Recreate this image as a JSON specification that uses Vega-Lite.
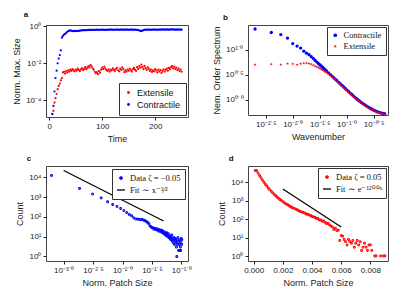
{
  "$schema": "https://vega.github.io/schema/vega-lite/v6.json",
  "padding": {"left": 12, "top": 10, "right": 2, "bottom": 2},
  "background": "white",
  "columns": 2,
  "spacing": {"row": 10, "column": 19},
  "config": {
    "font": "Liberation Sans",
    "view": {"stroke": "#444", "strokeWidth": 1},
    "axis": {"grid": false, "domain": false, "tickColor": "#222", "tickSize": 3, "labelFontSize": 8, "titleFontSize": 9, "titleFontWeight": "normal", "labelColor": "#222", "titleColor": "#222", "labelFont": "Liberation Sans", "titleFont": "Liberation Sans", "labelPadding": 2, "titlePadding": 4, "labelOverlap": false},
    "legend": {"labelFontSize": 8.5, "labelFont": "Liberation Serif", "labelColor": "#111", "strokeColor": "#333", "fillColor": "white", "padding": 4, "rowPadding": 2, "symbolStrokeWidth": 1.3, "labelLimit": 200, "offset": 3, "titlePadding": 0},
    "title": {"fontSize": 8, "fontWeight": "bold", "anchor": "start", "frame": "bounds", "offset": 3, "color": "#111", "font": "Liberation Sans"}
  },
  "resolve": {
    "scale": {"x": "independent", "y": "independent", "color": "independent", "shape": "independent", "fill": "independent", "stroke": "independent"},
    "legend": {"color": "independent", "shape": "independent", "fill": "independent", "stroke": "independent"}
  },
  "concat": [
    {
      "width": 142, "height": 92,
      "title": {"text": "a", "dx": 11},
      "data": {"values": [
        {"t":6,"v":0.0000186,"s":"Extensile"},{"t":8,"v":0.000027,"s":"Extensile"},{"t":10,"v":0.000076,"s":"Extensile"},{"t":12,"v":0.00013,"s":"Extensile"},{"t":14,"v":0.00022,"s":"Extensile"},{"t":16,"v":0.0004,"s":"Extensile"},{"t":18,"v":0.0006,"s":"Extensile"},{"t":20,"v":0.0008,"s":"Extensile"},{"t":22,"v":0.0012,"s":"Extensile"},{"t":24,"v":0.0016,"s":"Extensile"},
        {"t":26,"v":0.0032,"s":"Extensile"},{"t":28,"v":0.0035,"s":"Extensile"},{"t":30,"v":0.0028,"s":"Extensile"},{"t":32,"v":0.0038,"s":"Extensile"},{"t":34,"v":0.0031,"s":"Extensile"},{"t":36,"v":0.0042,"s":"Extensile"},{"t":38,"v":0.0036,"s":"Extensile"},{"t":40,"v":0.0045,"s":"Extensile"},{"t":42,"v":0.0039,"s":"Extensile"},{"t":44,"v":0.0048,"s":"Extensile"},
        {"t":46,"v":0.0041,"s":"Extensile"},{"t":48,"v":0.0037,"s":"Extensile"},{"t":50,"v":0.0046,"s":"Extensile"},{"t":52,"v":0.004,"s":"Extensile"},{"t":54,"v":0.0052,"s":"Extensile"},{"t":56,"v":0.0044,"s":"Extensile"},{"t":58,"v":0.0038,"s":"Extensile"},{"t":60,"v":0.0047,"s":"Extensile"},{"t":62,"v":0.0055,"s":"Extensile"},{"t":64,"v":0.0043,"s":"Extensile"},
        {"t":66,"v":0.005,"s":"Extensile"},{"t":68,"v":0.0062,"s":"Extensile"},{"t":70,"v":0.0048,"s":"Extensile"},{"t":72,"v":0.0058,"s":"Extensile"},{"t":74,"v":0.0071,"s":"Extensile"},{"t":76,"v":0.006,"s":"Extensile"},{"t":78,"v":0.0082,"s":"Extensile"},{"t":80,"v":0.0068,"s":"Extensile"},{"t":82,"v":0.0054,"s":"Extensile"},{"t":84,"v":0.0046,"s":"Extensile"},
        {"t":86,"v":0.0035,"s":"Extensile"},{"t":88,"v":0.0029,"s":"Extensile"},{"t":90,"v":0.0033,"s":"Extensile"},{"t":92,"v":0.0026,"s":"Extensile"},{"t":94,"v":0.0038,"s":"Extensile"},{"t":96,"v":0.0031,"s":"Extensile"},{"t":98,"v":0.0045,"s":"Extensile"},{"t":100,"v":0.0058,"s":"Extensile"},{"t":102,"v":0.0049,"s":"Extensile"},{"t":104,"v":0.0066,"s":"Extensile"},
        {"t":106,"v":0.0052,"s":"Extensile"},{"t":108,"v":0.0043,"s":"Extensile"},{"t":110,"v":0.0039,"s":"Extensile"},{"t":112,"v":0.0047,"s":"Extensile"},{"t":114,"v":0.0036,"s":"Extensile"},{"t":116,"v":0.0044,"s":"Extensile"},{"t":118,"v":0.0041,"s":"Extensile"},{"t":120,"v":0.0053,"s":"Extensile"},{"t":122,"v":0.0045,"s":"Extensile"},{"t":124,"v":0.0038,"s":"Extensile"},
        {"t":126,"v":0.0049,"s":"Extensile"},{"t":128,"v":0.0057,"s":"Extensile"},{"t":130,"v":0.0042,"s":"Extensile"},{"t":132,"v":0.0037,"s":"Extensile"},{"t":134,"v":0.0051,"s":"Extensile"},{"t":136,"v":0.0044,"s":"Extensile"},{"t":138,"v":0.006,"s":"Extensile"},{"t":140,"v":0.0048,"s":"Extensile"},{"t":142,"v":0.0033,"s":"Extensile"},{"t":144,"v":0.0041,"s":"Extensile"},
        {"t":146,"v":0.0035,"s":"Extensile"},{"t":148,"v":0.0046,"s":"Extensile"},{"t":150,"v":0.0039,"s":"Extensile"},{"t":152,"v":0.0052,"s":"Extensile"},{"t":154,"v":0.0043,"s":"Extensile"},{"t":156,"v":0.0036,"s":"Extensile"},{"t":158,"v":0.0048,"s":"Extensile"},{"t":160,"v":0.0056,"s":"Extensile"},{"t":162,"v":0.0045,"s":"Extensile"},{"t":164,"v":0.0039,"s":"Extensile"},
        {"t":166,"v":0.0062,"s":"Extensile"},{"t":168,"v":0.005,"s":"Extensile"},{"t":170,"v":0.0071,"s":"Extensile"},{"t":172,"v":0.0058,"s":"Extensile"},{"t":174,"v":0.0085,"s":"Extensile"},{"t":176,"v":0.0064,"s":"Extensile"},{"t":178,"v":0.0049,"s":"Extensile"},{"t":180,"v":0.0072,"s":"Extensile"},{"t":182,"v":0.0055,"s":"Extensile"},{"t":184,"v":0.0044,"s":"Extensile"},
        {"t":186,"v":0.0061,"s":"Extensile"},{"t":188,"v":0.005,"s":"Extensile"},{"t":190,"v":0.0038,"s":"Extensile"},{"t":192,"v":0.0046,"s":"Extensile"},{"t":194,"v":0.0034,"s":"Extensile"},{"t":196,"v":0.0042,"s":"Extensile"},{"t":198,"v":0.0037,"s":"Extensile"},{"t":200,"v":0.0049,"s":"Extensile"},{"t":202,"v":0.0041,"s":"Extensile"},{"t":204,"v":0.0032,"s":"Extensile"},
        {"t":206,"v":0.0045,"s":"Extensile"},{"t":208,"v":0.0036,"s":"Extensile"},{"t":210,"v":0.0043,"s":"Extensile"},{"t":212,"v":0.003,"s":"Extensile"},{"t":214,"v":0.0039,"s":"Extensile"},{"t":216,"v":0.0047,"s":"Extensile"},{"t":218,"v":0.0035,"s":"Extensile"},{"t":220,"v":0.0044,"s":"Extensile"},{"t":222,"v":0.0052,"s":"Extensile"},{"t":224,"v":0.004,"s":"Extensile"},
        {"t":226,"v":0.0056,"s":"Extensile"},{"t":228,"v":0.0047,"s":"Extensile"},{"t":230,"v":0.0062,"s":"Extensile"},{"t":232,"v":0.0071,"s":"Extensile"},{"t":234,"v":0.0054,"s":"Extensile"},{"t":236,"v":0.0066,"s":"Extensile"},{"t":238,"v":0.0049,"s":"Extensile"},{"t":240,"v":0.0058,"s":"Extensile"},{"t":242,"v":0.0043,"s":"Extensile"},{"t":244,"v":0.0051,"s":"Extensile"},
        {"t":246,"v":0.0038,"s":"Extensile"},{"t":248,"v":0.0046,"s":"Extensile"},{"t":250,"v":0.0035,"s":"Extensile"},
        {"t":6,"v":0.000018,"s":"Contractile"},{"t":8,"v":0.00005,"s":"Contractile"},{"t":10,"v":0.0003,"s":"Contractile"},{"t":12,"v":0.0016,"s":"Contractile"},{"t":14,"v":0.004,"s":"Contractile"},{"t":16,"v":0.01,"s":"Contractile"},{"t":18,"v":0.018,"s":"Contractile"},{"t":20,"v":0.028,"s":"Contractile"},{"t":22,"v":0.05,"s":"Contractile"},{"t":24,"v":0.24,"s":"Contractile"},
        {"t":26,"v":0.3,"s":"Contractile"},{"t":28,"v":0.35,"s":"Contractile"},{"t":30,"v":0.39,"s":"Contractile"},{"t":32,"v":0.43,"s":"Contractile"},{"t":34,"v":0.5,"s":"Contractile"},{"t":36,"v":0.55,"s":"Contractile"},{"t":38,"v":0.58,"s":"Contractile"},{"t":40,"v":0.6,"s":"Contractile"},{"t":42,"v":0.57,"s":"Contractile"},{"t":44,"v":0.55,"s":"Contractile"},
        {"t":46,"v":0.56,"s":"Contractile"},{"t":48,"v":0.54,"s":"Contractile"},{"t":50,"v":0.56,"s":"Contractile"},{"t":52,"v":0.55,"s":"Contractile"},{"t":54,"v":0.57,"s":"Contractile"},{"t":56,"v":0.56,"s":"Contractile"},{"t":58,"v":0.58,"s":"Contractile"},{"t":60,"v":0.59,"s":"Contractile"},{"t":62,"v":0.6,"s":"Contractile"},{"t":64,"v":0.61,"s":"Contractile"},
        {"t":66,"v":0.6,"s":"Contractile"},{"t":68,"v":0.62,"s":"Contractile"},{"t":70,"v":0.61,"s":"Contractile"},{"t":72,"v":0.62,"s":"Contractile"},{"t":74,"v":0.63,"s":"Contractile"},{"t":76,"v":0.62,"s":"Contractile"},{"t":78,"v":0.63,"s":"Contractile"},{"t":80,"v":0.64,"s":"Contractile"},{"t":82,"v":0.63,"s":"Contractile"},{"t":84,"v":0.64,"s":"Contractile"},
        {"t":86,"v":0.63,"s":"Contractile"},{"t":88,"v":0.64,"s":"Contractile"},{"t":90,"v":0.65,"s":"Contractile"},{"t":92,"v":0.64,"s":"Contractile"},{"t":94,"v":0.63,"s":"Contractile"},{"t":96,"v":0.64,"s":"Contractile"},{"t":98,"v":0.65,"s":"Contractile"},{"t":100,"v":0.64,"s":"Contractile"},{"t":102,"v":0.65,"s":"Contractile"},{"t":104,"v":0.64,"s":"Contractile"},
        {"t":106,"v":0.63,"s":"Contractile"},{"t":108,"v":0.64,"s":"Contractile"},{"t":110,"v":0.65,"s":"Contractile"},{"t":112,"v":0.64,"s":"Contractile"},{"t":114,"v":0.65,"s":"Contractile"},{"t":116,"v":0.66,"s":"Contractile"},{"t":118,"v":0.65,"s":"Contractile"},{"t":120,"v":0.64,"s":"Contractile"},{"t":122,"v":0.65,"s":"Contractile"},{"t":124,"v":0.64,"s":"Contractile"},
        {"t":126,"v":0.65,"s":"Contractile"},{"t":128,"v":0.66,"s":"Contractile"},{"t":130,"v":0.65,"s":"Contractile"},{"t":132,"v":0.64,"s":"Contractile"},{"t":134,"v":0.65,"s":"Contractile"},{"t":136,"v":0.66,"s":"Contractile"},{"t":138,"v":0.65,"s":"Contractile"},{"t":140,"v":0.64,"s":"Contractile"},{"t":142,"v":0.65,"s":"Contractile"},{"t":144,"v":0.65,"s":"Contractile"},
        {"t":146,"v":0.66,"s":"Contractile"},{"t":148,"v":0.65,"s":"Contractile"},{"t":150,"v":0.64,"s":"Contractile"},{"t":152,"v":0.65,"s":"Contractile"},{"t":154,"v":0.66,"s":"Contractile"},{"t":156,"v":0.65,"s":"Contractile"},{"t":158,"v":0.65,"s":"Contractile"},{"t":160,"v":0.64,"s":"Contractile"},{"t":162,"v":0.65,"s":"Contractile"},{"t":164,"v":0.64,"s":"Contractile"},
        {"t":166,"v":0.63,"s":"Contractile"},{"t":168,"v":0.62,"s":"Contractile"},{"t":170,"v":0.6,"s":"Contractile"},{"t":172,"v":0.56,"s":"Contractile"},{"t":174,"v":0.54,"s":"Contractile"},{"t":176,"v":0.58,"s":"Contractile"},{"t":178,"v":0.62,"s":"Contractile"},{"t":180,"v":0.64,"s":"Contractile"},{"t":182,"v":0.65,"s":"Contractile"},{"t":184,"v":0.64,"s":"Contractile"},
        {"t":186,"v":0.65,"s":"Contractile"},{"t":188,"v":0.66,"s":"Contractile"},{"t":190,"v":0.65,"s":"Contractile"},{"t":192,"v":0.64,"s":"Contractile"},{"t":194,"v":0.65,"s":"Contractile"},{"t":196,"v":0.66,"s":"Contractile"},{"t":198,"v":0.65,"s":"Contractile"},{"t":200,"v":0.66,"s":"Contractile"},{"t":202,"v":0.65,"s":"Contractile"},{"t":204,"v":0.64,"s":"Contractile"},
        {"t":206,"v":0.65,"s":"Contractile"},{"t":208,"v":0.66,"s":"Contractile"},{"t":210,"v":0.65,"s":"Contractile"},{"t":212,"v":0.66,"s":"Contractile"},{"t":214,"v":0.67,"s":"Contractile"},{"t":216,"v":0.66,"s":"Contractile"},{"t":218,"v":0.65,"s":"Contractile"},{"t":220,"v":0.66,"s":"Contractile"},{"t":222,"v":0.67,"s":"Contractile"},{"t":224,"v":0.66,"s":"Contractile"},
        {"t":226,"v":0.65,"s":"Contractile"},{"t":228,"v":0.66,"s":"Contractile"},{"t":230,"v":0.67,"s":"Contractile"},{"t":232,"v":0.66,"s":"Contractile"},{"t":234,"v":0.67,"s":"Contractile"},{"t":236,"v":0.66,"s":"Contractile"},{"t":238,"v":0.65,"s":"Contractile"},{"t":240,"v":0.66,"s":"Contractile"},{"t":242,"v":0.67,"s":"Contractile"},{"t":244,"v":0.66,"s":"Contractile"},
        {"t":246,"v":0.65,"s":"Contractile"},{"t":248,"v":0.66,"s":"Contractile"},{"t":250,"v":0.65,"s":"Contractile"}
      ]},
      "mark": {"type": "point", "filled": true, "size": 5, "opacity": 1},
      "encoding": {
        "x": {"field": "t", "type": "quantitative", "scale": {"domain": [-6, 262], "nice": false, "zero": false}, "axis": {"title": "Time", "values": [0, 100, 200]}},
        "y": {"field": "v", "type": "quantitative", "scale": {"type": "log", "domain": [0.0000126, 1.17], "nice": false}, "axis": {"title": "Norm. Max. Size", "values": [0.0001, 0.01, 1], "labelExpr": "datum.value > 0.5 ? '10⁰' : datum.value > 0.005 ? '10⁻²' : '10⁻⁴'"}},
        "color": {"field": "s", "type": "nominal", "scale": {"domain": ["Extensile", "Contractile"], "range": ["#ff0000", "#0000ff"]}, "legend": {"title": null, "orient": "bottom-right", "offset": 2, "labelFont": "Liberation Sans", "labelFontSize": 9, "symbolSize": 8, "symbolType": "circle", "padding": 5}}
      }
    },
    {
      "width": 140, "height": 90,
      "title": {"text": "b", "dx": 11},
      "data": {"values": [
        {"k":0.002,"p":25.7,"s":"Contractile"},{"k":0.004,"p":21.9,"s":"Contractile"},{"k":0.006,"p":19.95,"s":"Contractile"},{"k":0.008,"p":16.98,"s":"Contractile"},{"k":0.01,"p":13.18,"s":"Contractile"},{"k":0.012,"p":11.75,"s":"Contractile"},{"k":0.014,"p":10.72,"s":"Contractile"},{"k":0.016,"p":9.33,"s":"Contractile"},{"k":0.018,"p":8.51,"s":"Contractile"},{"k":0.02,"p":7.94,"s":"Contractile"},
        {"k":0.022,"p":7.24,"s":"Contractile"},{"k":0.024,"p":6.68,"s":"Contractile"},{"k":0.026,"p":6.1,"s":"Contractile"},{"k":0.028,"p":5.66,"s":"Contractile"},{"k":0.03,"p":5.28,"s":"Contractile"},{"k":0.032,"p":4.95,"s":"Contractile"},{"k":0.034,"p":4.67,"s":"Contractile"},{"k":0.036,"p":4.41,"s":"Contractile"},{"k":0.038,"p":4.17,"s":"Contractile"},{"k":0.04,"p":3.96,"s":"Contractile"},
        {"k":0.042,"p":3.776,"s":"Contractile"},{"k":0.046,"p":3.443,"s":"Contractile"},{"k":0.05,"p":3.17,"s":"Contractile"},{"k":0.054,"p":2.938,"s":"Contractile"},{"k":0.058,"p":2.735,"s":"Contractile"},{"k":0.062,"p":2.559,"s":"Contractile"},{"k":0.066,"p":2.404,"s":"Contractile"},{"k":0.072,"p":2.203,"s":"Contractile"},{"k":0.076,"p":2.084,"s":"Contractile"},{"k":0.082,"p":1.932,"s":"Contractile"},
        {"k":0.088,"p":1.803,"s":"Contractile"},{"k":0.094,"p":1.687,"s":"Contractile"},{"k":0.1,"p":1.585,"s":"Contractile"},{"k":0.108,"p":1.469,"s":"Contractile"},{"k":0.116,"p":1.368,"s":"Contractile"},{"k":0.124,"p":1.279,"s":"Contractile"},{"k":0.132,"p":1.202,"s":"Contractile"},{"k":0.142,"p":1.122,"s":"Contractile"},{"k":0.152,"p":1.057,"s":"Contractile"},{"k":0.162,"p":0.995,"s":"Contractile"},
        {"k":0.174,"p":0.94,"s":"Contractile"},{"k":0.186,"p":0.891,"s":"Contractile"},{"k":0.2,"p":0.841,"s":"Contractile"},{"k":0.214,"p":0.802,"s":"Contractile"},{"k":0.23,"p":0.762,"s":"Contractile"},{"k":0.246,"p":0.728,"s":"Contractile"},{"k":0.264,"p":0.695,"s":"Contractile"},{"k":0.282,"p":0.667,"s":"Contractile"},{"k":0.302,"p":0.641,"s":"Contractile"},{"k":0.324,"p":0.618,"s":"Contractile"},
        {"k":0.348,"p":0.596,"s":"Contractile"},{"k":0.372,"p":0.578,"s":"Contractile"},{"k":0.4,"p":0.564,"s":"Contractile"},{"k":0.428,"p":0.551,"s":"Contractile"},{"k":0.458,"p":0.54,"s":"Contractile"},{"k":0.49,"p":0.53,"s":"Contractile"},{"k":0.506,"p":0.525,"s":"Contractile"},
        {"k":0.002,"p":5.01,"s":"Extensile"},{"k":0.004,"p":5.13,"s":"Extensile"},{"k":0.006,"p":5.01,"s":"Extensile"},{"k":0.008,"p":5.25,"s":"Extensile"},{"k":0.01,"p":5.19,"s":"Extensile"},{"k":0.012,"p":5.01,"s":"Extensile"},{"k":0.014,"p":5.25,"s":"Extensile"},{"k":0.016,"p":5.37,"s":"Extensile"},{"k":0.018,"p":5.37,"s":"Extensile"},{"k":0.02,"p":5.31,"s":"Extensile"},
        {"k":0.022,"p":5.13,"s":"Extensile"},{"k":0.024,"p":4.9,"s":"Extensile"},{"k":0.026,"p":4.68,"s":"Extensile"},{"k":0.028,"p":4.52,"s":"Extensile"},{"k":0.03,"p":4.37,"s":"Extensile"},{"k":0.032,"p":4.17,"s":"Extensile"},{"k":0.034,"p":4.03,"s":"Extensile"},{"k":0.036,"p":3.89,"s":"Extensile"},{"k":0.038,"p":3.76,"s":"Extensile"},{"k":0.04,"p":3.63,"s":"Extensile"},
        {"k":0.042,"p":3.508,"s":"Extensile"},{"k":0.046,"p":3.273,"s":"Extensile"},{"k":0.05,"p":3.084,"s":"Extensile"},{"k":0.054,"p":2.859,"s":"Extensile"},{"k":0.058,"p":2.661,"s":"Extensile"},{"k":0.062,"p":2.49,"s":"Extensile"},{"k":0.066,"p":2.339,"s":"Extensile"},{"k":0.072,"p":2.144,"s":"Extensile"},{"k":0.076,"p":2.028,"s":"Extensile"},{"k":0.082,"p":1.88,"s":"Extensile"},
        {"k":0.088,"p":1.754,"s":"Extensile"},{"k":0.094,"p":1.641,"s":"Extensile"},{"k":0.1,"p":1.542,"s":"Extensile"},{"k":0.108,"p":1.429,"s":"Extensile"},{"k":0.116,"p":1.331,"s":"Extensile"},{"k":0.124,"p":1.244,"s":"Extensile"},{"k":0.132,"p":1.17,"s":"Extensile"},{"k":0.142,"p":1.092,"s":"Extensile"},{"k":0.152,"p":1.028,"s":"Extensile"},{"k":0.162,"p":0.968,"s":"Extensile"},
        {"k":0.174,"p":0.915,"s":"Extensile"},{"k":0.186,"p":0.867,"s":"Extensile"},{"k":0.2,"p":0.818,"s":"Extensile"},{"k":0.214,"p":0.78,"s":"Extensile"},{"k":0.23,"p":0.741,"s":"Extensile"},{"k":0.246,"p":0.708,"s":"Extensile"},{"k":0.264,"p":0.676,"s":"Extensile"},{"k":0.282,"p":0.649,"s":"Extensile"},{"k":0.302,"p":0.624,"s":"Extensile"},{"k":0.324,"p":0.601,"s":"Extensile"},
        {"k":0.348,"p":0.58,"s":"Extensile"},{"k":0.372,"p":0.562,"s":"Extensile"},{"k":0.4,"p":0.549,"s":"Extensile"},{"k":0.428,"p":0.536,"s":"Extensile"},{"k":0.458,"p":0.525,"s":"Extensile"},{"k":0.49,"p":0.516,"s":"Extensile"},{"k":0.506,"p":0.511,"s":"Extensile"}
      ]},
      "mark": {"type": "point", "filled": true, "size": 11, "opacity": 1},
      "encoding": {
        "x": {"field": "k", "type": "quantitative", "scale": {"type": "log", "domain": [0.00148, 0.582], "nice": false}, "axis": {"title": "Wavenumber", "values": [0.00316228, 0.01, 0.0316228, 0.1, 0.316228], "labelExpr": "datum.value > 0.2 ? '10⁻⁰˙⁵' : datum.value > 0.05 ? '10⁻¹˙⁰' : datum.value > 0.02 ? '10⁻¹˙⁵' : datum.value > 0.005 ? '10⁻²˙⁰' : '10⁻²˙⁵'"}},
        "y": {"field": "p", "type": "quantitative", "scale": {"type": "log", "domain": [0.5, 30.9], "nice": false}, "axis": {"title": "Nem. Order Spectrum", "values": [1, 3.16228, 10], "labelExpr": "datum.value > 5 ? '10¹˙⁰' : datum.value > 2 ? '10⁰˙⁵' : '10⁰˙⁰'"}},
        "color": {"field": "s", "type": "nominal", "scale": {"domain": ["Contractile", "Extensile"], "range": ["#0000ff", "#ff0000"]}, "legend": {"title": null, "orient": "top-right", "offset": 2, "symbolSize": 14}},
        "shape": {"field": "s", "type": "nominal", "scale": {"domain": ["Contractile", "Extensile"], "range": ["circle", "M0,-1L0.2245,-0.309L0.951,-0.309L0.363,0.118L0.588,0.809L0,0.382L-0.588,0.809L-0.363,0.118L-0.951,-0.309L-0.2245,-0.309Z"]}, "legend": {"title": null, "orient": "top-right", "offset": 2, "symbolSize": 14}}
      }
    },
    {
      "width": 142, "height": 95,
      "title": {"text": "c", "dx": 11},
      "layer": [
        {
          "data": {"values": [
            {"x":0.00062,"n":12300},{"x":0.00186,"n":2750},{"x":0.0031,"n":1450},{"x":0.00434,"n":890},{"x":0.00558,"n":575},{"x":0.00682,"n":417},{"x":0.00806,"n":331},{"x":0.0093,"n":263},{"x":0.01054,"n":209},{"x":0.01178,"n":166},
            {"x":0.01302,"n":132},{"x":0.01426,"n":115},{"x":0.0155,"n":91},{"x":0.01674,"n":79},{"x":0.01798,"n":76},{"x":0.01922,"n":76},{"x":0.02046,"n":72},{"x":0.0217,"n":74},{"x":0.02294,"n":68},{"x":0.02418,"n":63},
            {"x":0.02542,"n":58},{"x":0.02666,"n":52},{"x":0.0279,"n":46},{"x":0.02914,"n":36},{"x":0.03038,"n":32},{"x":0.03162,"n":28},{"x":0.03286,"n":28},{"x":0.0341,"n":24},{"x":0.03534,"n":27},{"x":0.03658,"n":23},
            {"x":0.03782,"n":25},{"x":0.03906,"n":21},{"x":0.0403,"n":24},{"x":0.04154,"n":19},{"x":0.04278,"n":22},{"x":0.04402,"n":20},{"x":0.04526,"n":17},{"x":0.0465,"n":21},{"x":0.04774,"n":16},{"x":0.04898,"n":18},
            {"x":0.05022,"n":14},{"x":0.05146,"n":17},{"x":0.0527,"n":13},{"x":0.05394,"n":15},{"x":0.05518,"n":11},{"x":0.05642,"n":16},{"x":0.05766,"n":12},{"x":0.0589,"n":10},{"x":0.06014,"n":14},{"x":0.06138,"n":9},
            {"x":0.06262,"n":11},{"x":0.06386,"n":8},{"x":0.0651,"n":10},{"x":0.06634,"n":7},{"x":0.06758,"n":9},{"x":0.06882,"n":12},{"x":0.07006,"n":6},{"x":0.0713,"n":8},{"x":0.07254,"n":5},{"x":0.07378,"n":7},
            {"x":0.07502,"n":9},{"x":0.07626,"n":4},{"x":0.0775,"n":6},{"x":0.07874,"n":8},{"x":0.07998,"n":5},{"x":0.08122,"n":7},{"x":0.08246,"n":3},{"x":0.0837,"n":1},{"x":0.08494,"n":6},{"x":0.08618,"n":4},
            {"x":0.08742,"n":9},{"x":0.08866,"n":5},{"x":0.0899,"n":2},{"x":0.09114,"n":7},{"x":0.09238,"n":4},{"x":0.09362,"n":2},{"x":0.09486,"n":6},{"x":0.0961,"n":3},{"x":0.09734,"n":2},{"x":0.09858,"n":5},
            {"x":0.09982,"n":8},{"x":0.10106,"n":4},{"x":0.1023,"n":7}
          ]},
          "transform": [{"calculate": "'Data ζ = −0.05'", "as": "s"}],
          "mark": {"type": "point", "filled": true, "size": 11, "opacity": 1},
          "encoding": {
            "x": {"field": "x", "type": "quantitative", "scale": {"type": "log", "domain": [0.000501, 0.1297], "nice": false}, "axis": {"title": "Norm. Patch Size", "values": [0.001, 0.00316228, 0.01, 0.0316228, 0.1], "labelExpr": "datum.value > 0.05 ? '10⁻¹˙⁰' : datum.value > 0.02 ? '10⁻¹˙⁵' : datum.value > 0.005 ? '10⁻²˙⁰' : datum.value > 0.002 ? '10⁻²˙⁵' : '10⁻³˙⁰'"}},
            "y": {"field": "n", "type": "quantitative", "scale": {"type": "log", "domain": [0.59, 37150], "nice": false}, "axis": {"title": "Count", "values": [1, 10, 100, 1000, 10000], "labelExpr": "datum.value > 5000 ? '10⁴' : datum.value > 500 ? '10³' : datum.value > 50 ? '10²' : datum.value > 5 ? '10¹' : '10⁰'"}},
            "fill": {"field": "s", "type": "nominal", "scale": {"domain": ["Data ζ = −0.05", "Fit ∼ x⁻³⁄²"], "range": ["#0000ff", "#000000"]}, "legend": {"title": null, "orient": "top-right", "offset": 3, "symbolSize": 64}},
            "stroke": {"field": "s", "type": "nominal", "scale": {"domain": ["Data ζ = −0.05", "Fit ∼ x⁻³⁄²"], "range": ["#0000ff", "#000000"]}, "legend": {"title": null, "orient": "top-right", "offset": 3, "symbolSize": 64}},
            "shape": {"field": "s", "type": "nominal", "scale": {"domain": ["Data ζ = −0.05", "Fit ∼ x⁻³⁄²"], "range": ["M-0.3,0A0.3,0.3 0 1,0 0.3,0A0.3,0.3 0 1,0 -0.3,0Z", "stroke"]}, "legend": {"title": null, "orient": "top-right", "offset": 3, "symbolSize": 64}}
          }
        },
        {
          "data": {"values": [{"x": 0.001, "n": 22000}, {"x": 0.05, "n": 62}]},
          "mark": {"type": "line", "color": "#000000", "strokeWidth": 1.2},
          "encoding": {"x": {"field": "x", "type": "quantitative"}, "y": {"field": "n", "type": "quantitative"}}
        }
      ]
    },
    {
      "width": 140, "height": 95,
      "title": {"text": "d", "dx": 11},
      "layer": [
        {
          "data": {"values": [
            {"x":0.0001,"n":43650},{"x":0.0002,"n":42660},{"x":0.0003,"n":31620},{"x":0.0004,"n":23440},{"x":0.0005,"n":17380},{"x":0.0006,"n":13180},{"x":0.0007,"n":10000},{"x":0.0008,"n":7762},{"x":0.0009,"n":6166},{"x":0.001,"n":4898},
            {"x":0.0011,"n":3981},{"x":0.0012,"n":3236},{"x":0.0013,"n":2692},{"x":0.0014,"n":2239},{"x":0.0015,"n":1862},{"x":0.0016,"n":1585},{"x":0.0017,"n":1349},{"x":0.0018,"n":1175},{"x":0.0019,"n":1023},{"x":0.002,"n":891},
            {"x":0.0021,"n":776},{"x":0.0022,"n":692},{"x":0.0023,"n":617},{"x":0.0024,"n":550},{"x":0.0025,"n":490},{"x":0.0026,"n":447},{"x":0.0027,"n":407},{"x":0.0028,"n":372},{"x":0.0029,"n":339},{"x":0.003,"n":309},
            {"x":0.0031,"n":288},{"x":0.0032,"n":263},{"x":0.0033,"n":245},{"x":0.0034,"n":229},{"x":0.0035,"n":214},{"x":0.0036,"n":191},{"x":0.0037,"n":186},{"x":0.0038,"n":166},{"x":0.0039,"n":158},{"x":0.004,"n":138},
            {"x":0.0041,"n":132},{"x":0.0042,"n":126},{"x":0.0043,"n":110},{"x":0.0044,"n":107},{"x":0.0045,"n":91},{"x":0.0046,"n":89},{"x":0.0047,"n":76},{"x":0.0048,"n":79},{"x":0.0049,"n":66},{"x":0.005,"n":58},
            {"x":0.0051,"n":60},{"x":0.0052,"n":48},{"x":0.0053,"n":42},{"x":0.0054,"n":38},{"x":0.0055,"n":28},{"x":0.0056,"n":32},{"x":0.0057,"n":24},{"x":0.0058,"n":25},{"x":0.0059,"n":7},{"x":0.006,"n":13},
            {"x":0.0061,"n":12},{"x":0.0062,"n":8},{"x":0.0063,"n":6},{"x":0.0064,"n":4},{"x":0.0065,"n":8},{"x":0.0066,"n":6},{"x":0.0067,"n":5},{"x":0.0068,"n":7},{"x":0.0069,"n":3},{"x":0.007,"n":5},
            {"x":0.0071,"n":7},{"x":0.0072,"n":4},{"x":0.0073,"n":6},{"x":0.0074,"n":2},{"x":0.0075,"n":3},{"x":0.0076,"n":5},{"x":0.0077,"n":3},{"x":0.0078,"n":2},{"x":0.0079,"n":4},{"x":0.008,"n":4},
            {"x":0.0081,"n":2},{"x":0.0083,"n":1},{"x":0.0084,"n":1},{"x":0.0087,"n":1},{"x":0.0089,"n":1},{"x":0.009,"n":1}
          ]},
          "transform": [{"calculate": "'Data ζ = 0.05'", "as": "s"}],
          "mark": {"type": "point", "filled": true, "size": 11, "opacity": 1},
          "encoding": {
            "x": {"field": "x", "type": "quantitative", "scale": {"domain": [-0.00039, 0.00921], "nice": false, "zero": false}, "axis": {"title": "Norm. Patch Size", "values": [0, 0.002, 0.004, 0.006, 0.008], "format": ".3f", "labelOverlap": false, "labelFlush": false, "labelBound": false, "tickCount": 5}},
            "y": {"field": "n", "type": "quantitative", "scale": {"type": "log", "domain": [0.54, 75900], "nice": false}, "axis": {"title": "Count", "values": [1, 10, 100, 1000, 10000], "labelExpr": "datum.value > 5000 ? '10⁴' : datum.value > 500 ? '10³' : datum.value > 50 ? '10²' : datum.value > 5 ? '10¹' : '10⁰'"}},
            "fill": {"field": "s", "type": "nominal", "scale": {"domain": ["Data ζ = 0.05", "Fit ∼ e⁻¹²⁰⁰ˣ"], "range": ["#ff0000", "#000000"]}, "legend": {"title": null, "orient": "top-right", "offset": 2, "symbolSize": 64}},
            "stroke": {"field": "s", "type": "nominal", "scale": {"domain": ["Data ζ = 0.05", "Fit ∼ e⁻¹²⁰⁰ˣ"], "range": ["#ff0000", "#000000"]}, "legend": {"title": null, "orient": "top-right", "offset": 2, "symbolSize": 64}},
            "shape": {"field": "s", "type": "nominal", "scale": {"domain": ["Data ζ = 0.05", "Fit ∼ e⁻¹²⁰⁰ˣ"], "range": ["M-0.3,0A0.3,0.3 0 1,0 0.3,0A0.3,0.3 0 1,0 -0.3,0Z", "stroke"]}, "legend": {"title": null, "orient": "top-right", "offset": 2, "symbolSize": 64}}
          }
        },
        {
          "data": {"values": [{"x": 0.002, "n": 4300}, {"x": 0.006, "n": 37}]},
          "mark": {"type": "line", "color": "#000000", "strokeWidth": 1.2},
          "encoding": {"x": {"field": "x", "type": "quantitative"}, "y": {"field": "n", "type": "quantitative"}}
        }
      ]
    }
  ]
}
